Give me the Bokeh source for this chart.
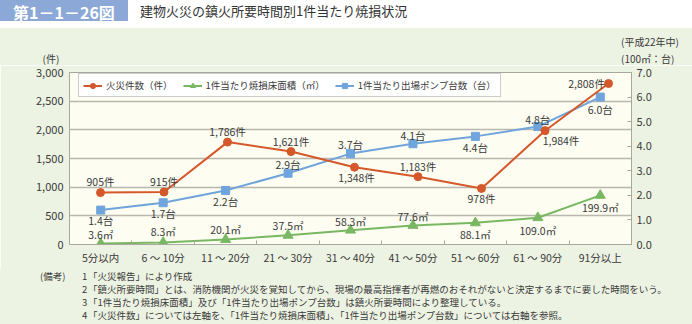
from bokeh.plotting import figure
from bokeh.models import (Range1d, LinearAxis, FixedTicker, ColumnDataSource, Div,
                          Legend, LegendItem, NumeralTickFormatter, CustomJSTickFormatter)
from bokeh.layouts import column
from bokeh.core.properties import value
from bokeh.embed import file_html
from bokeh.resources import INLINE

# ---------------- data ----------------
categories = ["5分以内", "6 ～ 10分", "11 ～ 20分", "21 ～ 30分", "31 ～ 40分",
              "41 ～ 50分", "51 ～ 60分", "61 ～ 90分", "91分以上"]
fires = [905, 915, 1786, 1621, 1348, 1183, 978, 1984, 2808]          # 件
area_m2 = [3.6, 8.3, 20.1, 37.5, 58.3, 77.6, 88.1, 109.0, 199.9]    # ㎡
pumps = [1.4, 1.7, 2.2, 2.9, 3.7, 4.1, 4.4, 4.8, 6.0]               # 台
left_ticks = [0, 500, 1000, 1500, 2000, 2500, 3000]
right_ticks = [0, 1, 2, 3, 4, 5, 6, 7]

title_num = "第1－1－26図"
title_text = "建物火災の鎮火所要時間別1件当たり焼損状況"
period_text = "(平成22年中)"
left_unit = "(件)"
right_unit = "(100㎡：台)"
legend_labels = ["火災件数（件）", "1件当たり焼損床面積（㎡）", "1件当たり出場ポンプ台数（台）"]
notes_head = "(備考)"
notes = ["「火災報告」により作成",
         "「鎮火所要時間」とは、消防機関が火災を覚知してから、現場の最高指揮者が再燃のおそれがないと決定するまでに要した時間をいう。",
         "「1件当たり焼損床面積」及び「1件当たり出場ポンプ台数」は鎮火所要時間により整理している。",
         "「火災件数」については左軸を、「1件当たり焼損床面積」、「1件当たり出場ポンプ台数」については右軸を参照。"]

# label placement (screen px offsets)
fire_dx = [0, 0, 0, 0, 2, 0, 0, 16, -22]
fire_dy = [-11, -11, -11, -10, 10, -10, 10, 10, 0]
pump_dx = [0, 0, 0, 0, 0, 0, 0, 0, 0]
pump_dy = [10, 11, 11, -9, -9, -8, 11, -7, 12]
area_dx = [0, 0, 0, 0, 0, 0, 0, 0, 0]
area_dy = [-9, -11, -10, -10, -9, -9, 12, 13, 12]

# ---------------- style ----------------
W = 692
HEAD_H, FIG_H, NOTE_H = 65, 204, 55     # 65 + 204 + 55 = 324
FL, FR = 69, 631                        # frame left/right (px)
FT, FB = 72 - HEAD_H, 244 - HEAD_H      # frame top/bottom inside figure
FONT = "Noto Sans CJK JP"
ORANGE = "#d5582a"
GREEN = "#79b862"
BLUE = "#6fa4dc"
TXT = "#3a3a3a"
GRID = "#b8b8b0"
FRAME = "#a8a8a0"
BG = "#edf3e3"

xs = [i + 0.5 for i in range(len(categories))]
area_h = [v / 100 for v in area_m2]

p = figure(width=W, height=FIG_H, output_backend="svg", toolbar_location=None,
           x_range=Range1d(0, 9), y_range=Range1d(0, 3000),
           min_border_left=FL, min_border_right=W - FR,
           min_border_top=FT, min_border_bottom=FIG_H - FB)
p.extra_y_ranges = {"r": Range1d(0, 7)}
p.extra_x_ranges = {"fx": Range1d(0.012, 8.862)}

p.background_fill_color = "#fdfdf1"
p.border_fill_color = BG
p.outline_line_color = FRAME
p.outline_line_width = 1

p.xgrid.visible = False
p.ygrid.ticker = FixedTicker(ticks=left_ticks)
p.ygrid.grid_line_color = GRID
p.ygrid.grid_line_width = 1.6

# left axis
ya = p.yaxis[0]
ya.ticker = FixedTicker(ticks=left_ticks)
ya.formatter = NumeralTickFormatter(format="0,0")
ya.axis_line_color = FRAME
ya.major_tick_line_color = None
ya.major_tick_out = 0
ya.minor_tick_line_color = None
ya.major_label_standoff = 6
ya.major_label_text_font = FONT
ya.major_label_text_font_size = "11px"
ya.major_label_text_color = TXT

# right axis
ra = LinearAxis(y_range_name="r", ticker=FixedTicker(ticks=right_ticks),
                formatter=NumeralTickFormatter(format="0.0"))
ra.axis_line_color = FRAME
ra.major_tick_line_color = FRAME
ra.major_tick_in = 4
ra.major_tick_out = 0
ra.minor_tick_line_color = None
ra.major_label_standoff = 5
ra.major_label_text_font = FONT
ra.major_label_text_font_size = "11px"
ra.major_label_text_color = TXT
p.add_layout(ra, "right")

# x axis
xa = p.xaxis[0]
xa.ticker = FixedTicker(ticks=xs, minor_ticks=list(range(1, len(categories))))
xa.formatter = CustomJSTickFormatter(args=dict(labels=categories),
                                     code="return labels[Math.floor(tick)] || '';")
xa.axis_line_color = FRAME
xa.major_tick_line_color = None
xa.major_tick_in = 0
xa.major_tick_out = 0
xa.minor_tick_line_color = FRAME
xa.minor_tick_in = 4
xa.minor_tick_out = 0
xa.major_label_standoff = 5
xa.major_label_text_font = FONT
xa.major_label_text_font_size = "10.5px"
xa.major_label_text_color = TXT

# series
bl = p.line(xs, pumps, y_range_name="r", line_color=BLUE, line_width=2)
bs = p.scatter(xs, pumps, y_range_name="r", marker="square", size=8, color=BLUE)
gl = p.line(xs, area_h, y_range_name="r", line_color=GREEN, line_width=2)
gs = p.scatter(xs, area_h, y_range_name="r", marker="triangle", size=10, color=GREEN)
ol = p.line(xs, fires, x_range_name="fx", line_color=ORANGE, line_width=2)
os_ = p.scatter(xs, fires, x_range_name="fx", marker="circle", size=8, color=ORANGE)

# data labels
lab_kw = dict(text_align="center", text_baseline="middle", text_font=value(FONT),
              text_font_size="10.5px", text_color=TXT)
fsrc = ColumnDataSource(dict(x=xs, y=fires, t=[f"{v:,}件" for v in fires], dx=fire_dx, dy=fire_dy))
p.text(x="x", y="y", text="t", x_offset="dx", y_offset="dy", source=fsrc, x_range_name="fx", **lab_kw)
psrc = ColumnDataSource(dict(x=xs, y=pumps, t=[f"{v:.1f}台" for v in pumps], dx=pump_dx, dy=pump_dy))
p.text(x="x", y="y", text="t", x_offset="dx", y_offset="dy", source=psrc, y_range_name="r", **lab_kw)
asrc = ColumnDataSource(dict(x=xs, y=area_h, t=[f"{v:.1f}㎡" for v in area_m2], dx=area_dx, dy=area_dy))
p.text(x="x", y="y", text="t", x_offset="dx", y_offset="dy", source=asrc, y_range_name="r", **lab_kw)

# legend
legend = Legend(items=[LegendItem(label=legend_labels[0], renderers=[ol, os_]),
                       LegendItem(label=legend_labels[1], renderers=[gl, gs]),
                       LegendItem(label=legend_labels[2], renderers=[bl, bs])],
                orientation="horizontal", location=(9, 147))
legend.background_fill_color = "white"
legend.background_fill_alpha = 1
legend.border_line_color = "#9a9a9a"
legend.label_text_font = FONT
legend.label_text_font_size = "9.5px"
legend.label_text_color = TXT
legend.glyph_width = 19
legend.glyph_height = 13
legend.label_height = 13
legend.label_standoff = 4
legend.padding = 4
legend.spacing = 10
legend.margin = 0
p.add_layout(legend)


# ---------------- header and notes (HTML) ----------------
def box(left, top, text, size, lh, extra=""):
    return (f'<div style="position:absolute;left:{left}px;top:{top}px;font-size:{size}px;'
            f'line-height:{lh}px;white-space:nowrap;{extra}">{text}</div>')


head_html = (
    f'<div style="position:relative;width:{W}px;height:{HEAD_H}px;background:{BG};'
    f"font-family:'{FONT}';color:{TXT};overflow:hidden\">"
    f'<div style="position:absolute;left:0;top:0;width:{W}px;height:28px;background:#ffffff"></div>'
    f'<div style="position:absolute;left:0;top:0;width:128px;height:21px;background:#8ca8d6"></div>'
    + box(0, 2, title_num, 16, 20,
          "width:128px;color:#ffffff;font-weight:bold;text-align:center")
    + box(140, 2, title_text, 13, 18, "color:#333333")
    + box(621, 36, period_text, 10, 12)
    + box(31, 53, left_unit, 10, 12, "width:40px;text-align:center")
    + box(621, 53, right_unit, 10, 12)
    + '</div>'
)

note_parts = [box(40, 1, notes_head, 9.5, 12)]
for i, n in enumerate(notes):
    note_parts.append(box(82, 1 + 13 * i, str(i + 1), 9.5, 12))
    note_parts.append(box(88, 1 + 13 * i, n, 9.5, 12))
notes_html = (
    f'<div style="position:relative;width:{W}px;height:{NOTE_H}px;background:{BG};'
    f"font-family:'{FONT}';color:{TXT};overflow:hidden\">" + "".join(note_parts) + '</div>'
)

head = Div(text=head_html, width=W, height=HEAD_H, styles={"margin": "0", "padding": "0"})
foot = Div(text=notes_html, width=W, height=NOTE_H, styles={"margin": "0", "padding": "0"})

layout = column(head, p, foot, spacing=0)
open("out.html", "w").write(file_html(layout, INLINE))
